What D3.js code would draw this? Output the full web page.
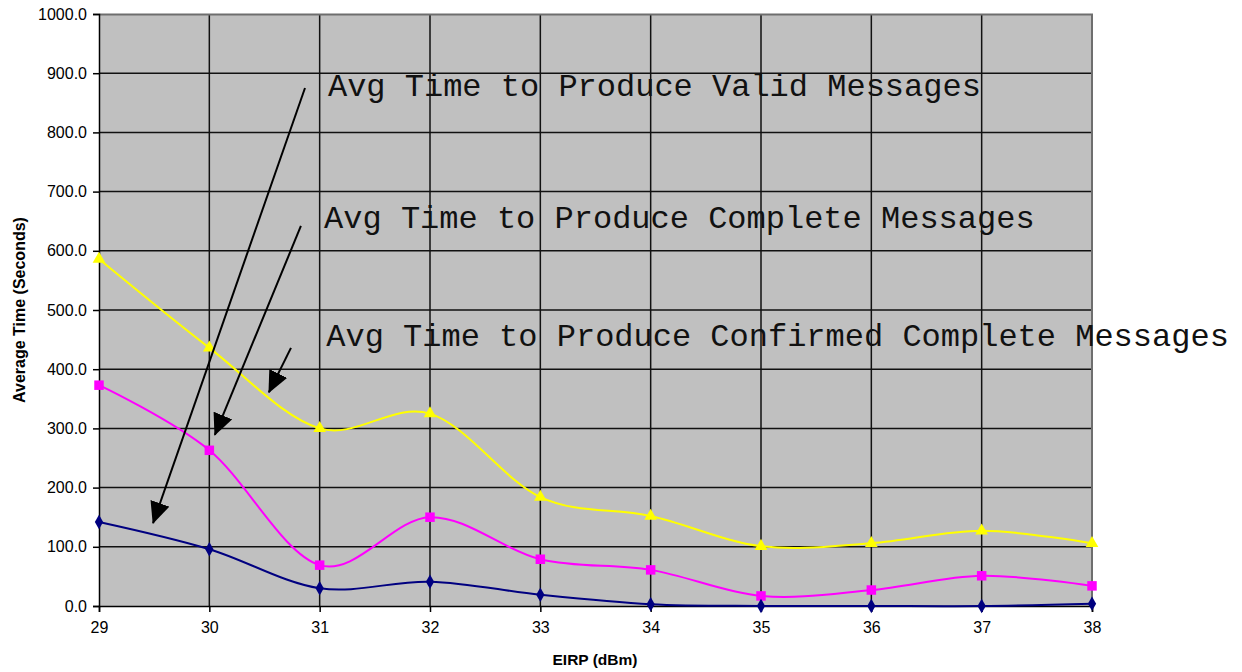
<!DOCTYPE html>
<html>
<head>
<meta charset="utf-8">
<script src="https://cdn.jsdelivr.net/npm/d3@7"></script>
<style>
  body { margin: 0; background: #fff; }
  svg { font-family: Arial, "Liberation Sans", sans-serif; }
</style>
</head>
<body>
<div id="chart-area"></div>
<script>
// EIRP (dBm) values on the x-axis
const eirp = [29, 30, 31, 32, 33, 34, 35, 36, 37, 38]
const yTicks = [0, 100, 200, 300, 400, 500, 600, 700, 800, 900, 1000]

// average times in seconds
const validTimes = [142, 96, 30, 41, 19, 3, 0, 0, 0, 4]
const completeTimes = [373, 263, 69, 150, 79, 61, 17, 27, 51, 34]
const confirmedTimes = [586, 436, 300, 325, 184, 152, 101, 106, 127, 106]

// annotation labels and arrows (in data units)
const noteLabels = [
    'Avg Time to Produce Valid Messages',
    'Avg Time to Produce Complete Messages',
    'Avg Time to Produce Confirmed Complete Messages'
]
const notePos = [[31.075, 861], [31.04, 638], [31.06, 439]]
const arrows = [
    [[30.867, 875], [29.49, 140]],
    [[30.83, 642], [30.05, 289]],
    [[30.74, 436], [30.54, 361]]
]

const canvas = { width: 1242, height: 672 }
const margin = { left: 99, right: 150, top: 14, bottom: 66 }
const group = {
    width: canvas.width - margin.left - margin.right,
    height: canvas.height - margin.top - margin.bottom
}

let svg = d3.select('#chart-area')
    .append('svg')
    .attr('width', canvas.width)
    .attr('height', canvas.height)

svg.append('defs').append('marker')
    .attr('id', 'head')
    .attr('markerUnits', 'userSpaceOnUse')
    .attr('viewBox', '0 0 22 20')
    .attr('markerWidth', 22)
    .attr('markerHeight', 20)
    .attr('refX', 21)
    .attr('refY', 10)
    .attr('orient', 'auto')
    .append('path')
    .attr('d', 'M0,0 L22,10 L0,20 Z')
    .attr('fill', '#000')

let g = svg.append('g')
    .attr('transform', `translate(${margin.left},${margin.top})`)

let scaleX = d3.scaleLinear()
    .domain([29, 38])
    .range([0, group.width])

let scaleY = d3.scaleLinear()
    .domain([0, 1000])
    .range([group.height, 0])

// plot background
g.append('rect')
    .attr('width', group.width)
    .attr('height', group.height)
    .attr('fill', '#c0c0c0')

// gridlines
g.selectAll('.hgrid')
    .data(yTicks.slice(1, -1))
    .enter().append('line')
    .attr('x1', 0).attr('x2', group.width)
    .attr('y1', d => scaleY(d)).attr('y2', d => scaleY(d))
    .attr('stroke', '#111').attr('stroke-width', 1.5)

g.selectAll('.vgrid')
    .data(eirp.slice(1, -1))
    .enter().append('line')
    .attr('x1', d => scaleX(d)).attr('x2', d => scaleX(d))
    .attr('y1', 0).attr('y2', group.height)
    .attr('stroke', '#111').attr('stroke-width', 1.5)

// top and right border
g.append('path')
    .attr('d', `M0,0.5 H${group.width} V${group.height}`)
    .attr('fill', 'none')
    .attr('stroke', '#6e6e6e')
    .attr('stroke-width', 2)

// y-axis
let yAxis = d3.axisLeft(scaleY)
    .tickValues(yTicks)
    .tickSize(6)
    .tickPadding(6)
    .tickFormat(d3.format('.1f'))
g.append('g')
    .call(yAxis)
    .call(s => s.selectAll('text').style('font-size', '16px').attr('fill', '#000').style('font-family', 'Arial, "Liberation Sans", sans-serif'))
    .call(s => s.selectAll('path, line').attr('stroke', '#000').attr('stroke-width', 1.5))

// x-axis
let xAxis = d3.axisBottom(scaleX)
    .tickValues(eirp)
    .tickSize(6)
    .tickPadding(10)
    .tickFormat(d3.format('d'))
g.append('g')
    .attr('transform', `translate(0, ${group.height})`)
    .call(xAxis)
    .call(s => s.selectAll('text').style('font-size', '16px').attr('fill', '#000').style('font-family', 'Arial, "Liberation Sans", sans-serif'))
    .call(s => s.selectAll('path, line').attr('stroke', '#000').attr('stroke-width', 1.5))

// axis titles
svg.append('text')
    .attr('transform', `translate(25, ${margin.top + group.height / 2}) rotate(-90)`)
    .attr('text-anchor', 'middle')
    .attr('font-weight', 'bold')
    .attr('font-size', 16)
    .text('Average Time (Seconds)')

svg.append('text')
    .attr('x', 595)
    .attr('y', 665)
    .attr('text-anchor', 'middle')
    .attr('font-weight', 'bold')
    .attr('font-size', 15.5)
    .text('EIRP (dBm)')

// series
const series = [
    { values: confirmedTimes, color: '#ffff00', shape: d3.symbolTriangle, size: 70 },
    { values: completeTimes, color: '#ff00ff', shape: d3.symbolSquare, size: 90 },
    { values: validTimes, color: '#000080', shape: d3.symbolDiamond, size: 60 }
]

let line = d3.line()
    .x(d => scaleX(d[0]))
    .y(d => scaleY(d[1]))
    .curve(d3.curveCatmullRom.alpha(0))

series.forEach(s => {
    let pts = eirp.map((x, i) => [x, s.values[i]])
    g.append('path')
        .datum(pts)
        .attr('d', line)
        .attr('fill', 'none')
        .attr('stroke', s.color)
        .attr('stroke-width', 2)
    g.selectAll(null)
        .data(pts)
        .enter().append('path')
        .attr('transform', d => `translate(${scaleX(d[0])},${scaleY(d[1])})`)
        .attr('d', d3.symbol().type(s.shape).size(s.size))
        .attr('fill', s.color)
})

// annotations
g.selectAll('.note')
    .data(noteLabels)
    .enter().append('text')
    .attr('x', (d, i) => scaleX(notePos[i][0]))
    .attr('y', (d, i) => scaleY(notePos[i][1]))
    .style('font-family', '"Liberation Mono", "DejaVu Sans Mono", monospace')
    .style('font-size', '32px')
    .attr('fill', '#111')
    .text(d => d)

g.selectAll('.arrow')
    .data(arrows)
    .enter().append('line')
    .attr('x1', d => scaleX(d[0][0]))
    .attr('y1', d => scaleY(d[0][1]))
    .attr('x2', d => scaleX(d[1][0]))
    .attr('y2', d => scaleY(d[1][1]))
    .attr('stroke', '#000')
    .attr('stroke-width', 2)
    .attr('marker-end', 'url(#head)')
</script>
</body>
</html>
